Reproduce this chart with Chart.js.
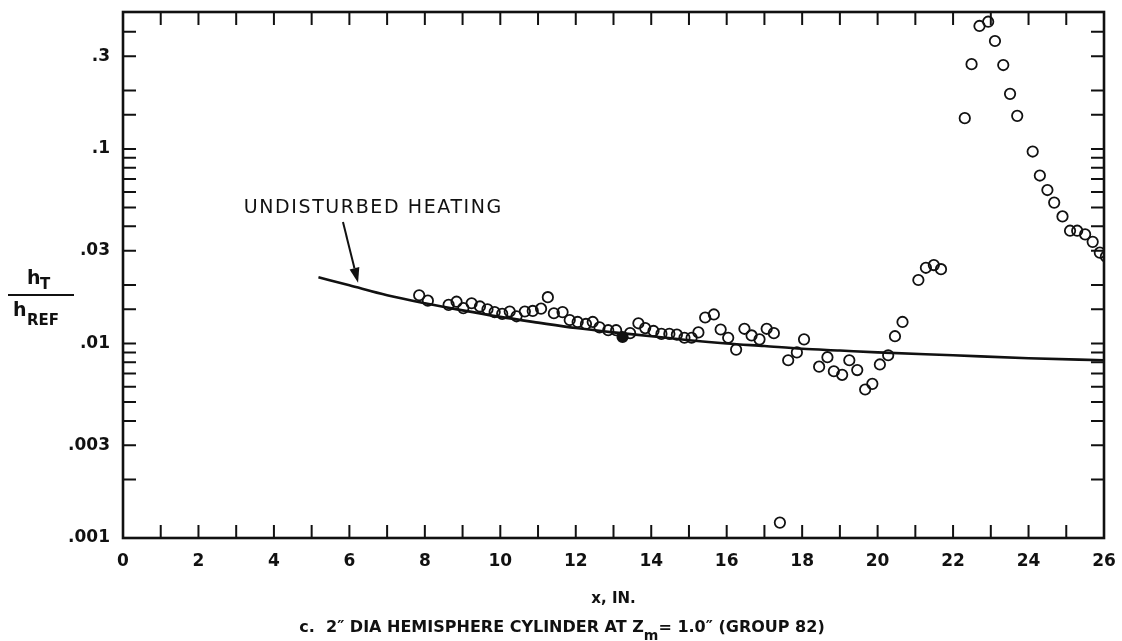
<!DOCTYPE html>
<html>
<head>
<meta charset="utf-8">
<script src="https://cdn.jsdelivr.net/npm/chart.js@4/dist/chart.umd.min.js"></script>
<style>
  html, body { margin: 0; padding: 0; background: #fff; }
</style>
</head>
<body>
<canvas id="chart" width="1122" height="641"></canvas>
<script>
// measured points (x in inches, h_T / h_REF)
const pointX = [7.85, 8.08, 8.63, 8.84, 9.02, 9.24, 9.46, 9.66, 9.85, 10.05, 10.25, 10.43, 10.65, 10.86, 11.08,
  11.26, 11.42, 11.65, 11.84, 12.05, 12.27, 12.45, 12.63, 12.86, 13.07, 13.24, 13.44, 13.66, 13.84, 14.06,
  14.27, 14.48, 14.68, 14.88, 15.07, 15.25, 15.43, 15.66, 15.84, 16.04, 16.25, 16.47, 16.66, 16.87, 17.06,
  17.25, 17.41, 17.63, 17.86, 18.05, 18.45, 18.67, 18.84, 19.06, 19.25, 19.46, 19.67, 19.86, 20.06, 20.28,
  20.46, 20.66, 21.08, 21.28, 21.49, 21.68, 22.31, 22.49, 22.70, 22.93, 23.11, 23.33, 23.51, 23.70, 24.11,
  24.30, 24.50, 24.68, 24.90, 25.10, 25.29, 25.50, 25.70, 25.89, 26.05];
const pointY = [0.0177, 0.0166, 0.0158, 0.0164, 0.0152, 0.0161, 0.0155, 0.0150, 0.0145, 0.0142, 0.0146, 0.0138, 0.0146, 0.0147, 0.0151,
  0.0173, 0.0143, 0.0145, 0.0132, 0.0129, 0.0126, 0.0129, 0.0121, 0.0117, 0.0117, 0.0108, 0.0113, 0.0127, 0.0120, 0.0116,
  0.0112, 0.0112, 0.0111, 0.0107, 0.0107, 0.0114, 0.0136, 0.0141, 0.0118, 0.0107, 0.0093, 0.0119, 0.0110, 0.0105, 0.0119,
  0.0113, 0.0012, 0.0082, 0.0090, 0.0105, 0.0076, 0.0085, 0.0072, 0.0069, 0.0082, 0.0073, 0.0058, 0.0062, 0.0078, 0.0087,
  0.0109, 0.0129, 0.0212, 0.0245, 0.0253, 0.0241, 0.144, 0.273, 0.429, 0.451, 0.359, 0.270, 0.192, 0.148, 0.097,
  0.073, 0.0615, 0.053, 0.045, 0.038, 0.038, 0.0364, 0.0333, 0.0293, 0.028];
const filledX = [13.24];

// undisturbed heating curve
const curveX = [5.18, 6, 7, 8, 9, 10, 11, 12, 13, 14, 15, 16, 17, 18, 19, 20, 22, 24, 26];
const curveY = [0.0219, 0.0199, 0.0177, 0.0161, 0.0148, 0.0137, 0.0128, 0.0120, 0.0114, 0.0109, 0.0104,
  0.0100, 0.0097, 0.0094, 0.0092, 0.0090, 0.0087, 0.0084, 0.0082];

const xTickLabels = [0, 2, 4, 6, 8, 10, 12, 14, 16, 18, 20, 22, 24, 26];
const yTickLabels = [0.001, 0.003, 0.01, 0.03, 0.1, 0.3];

const ink = '#111';
const tickLen = 13;
const fontFam = '"DejaVu Sans", "Liberation Sans", sans-serif';

// annotation anchor (data coords)
const note = { text: 'UNDISTURBED HEATING', x: 3.2, y: 0.0497 };
const arrow = { x0: 5.83, y0: 0.0421, x1: 6.23, y1: 0.0205 };

const isLabelled = (v, list) => list.some(t => Math.abs(v - t) / t < 1e-6 || v === t);
const noOverhang = s => { s.paddingTop = 0; s.paddingBottom = 0; s.paddingLeft = 0; s.paddingRight = 0; };

// frame, inward ticks, axis titles, caption, annotation
const decor = {
  id: 'decor',
  afterDatasetsDraw(chart) {
    const { ctx, chartArea: a, scales } = chart;
    const xs = scales.x, ys = scales.y;
    ctx.save();
    ctx.strokeStyle = ink;
    ctx.fillStyle = ink;
    ctx.lineWidth = 2;
    ctx.beginPath();
    xs.ticks.forEach(t => {
      const px = xs.getPixelForValue(t.value);
      if (px < a.left + 1 || px > a.right - 1) return;
      ctx.moveTo(px, a.bottom); ctx.lineTo(px, a.bottom - tickLen);
      ctx.moveTo(px, a.top); ctx.lineTo(px, a.top + tickLen);
    });
    ys.ticks.forEach(t => {
      const py = ys.getPixelForValue(t.value);
      if (py < a.top + 2 || py > a.bottom - 1) return;
      ctx.moveTo(a.left, py); ctx.lineTo(a.left + tickLen, py);
      ctx.moveTo(a.right, py); ctx.lineTo(a.right - tickLen, py);
    });
    ctx.stroke();
    ctx.lineWidth = 2.6;
    ctx.strokeRect(a.left, a.top, a.right - a.left, a.bottom - a.top);

    // y title as fraction h_T / h_REF
    ctx.textBaseline = 'alphabetic';
    ctx.textAlign = 'left';
    ctx.font = 'bold 19px ' + fontFam;
    ctx.fillText('h', 27, 284);
    ctx.font = 'bold 15px ' + fontFam;
    ctx.fillText('T', 40, 289);
    ctx.lineWidth = 2;
    ctx.beginPath();
    ctx.moveTo(8, 295); ctx.lineTo(74, 295);
    ctx.stroke();
    ctx.font = 'bold 19px ' + fontFam;
    ctx.fillText('h', 13, 316);
    ctx.font = 'bold 15px ' + fontFam;
    ctx.fillText('REF', 27, 325);

    // x title
    ctx.textAlign = 'center';
    ctx.font = 'bold 15px ' + fontFam;
    ctx.fillText('x, IN.', (a.left + a.right) / 2, 603);

    // caption with subscript m
    ctx.textAlign = 'left';
    const partA = 'c.  2\u2033 DIA HEMISPHERE CYLINDER AT Z';
    const partB = '= 1.0\u2033 (GROUP 82)';
    const big = 'bold 16px ' + fontFam, small = 'bold 14px ' + fontFam;
    ctx.font = big;
    const wA = ctx.measureText(partA).width, wB = ctx.measureText(partB).width;
    ctx.font = small;
    const wM = ctx.measureText('m').width;
    let cx = 562 - (wA + wM + wB) / 2;
    ctx.font = big; ctx.fillText(partA, cx, 632); cx += wA;
    ctx.font = small; ctx.fillText('m', cx, 640); cx += wM;
    ctx.font = big; ctx.fillText(partB, cx, 632);

    // annotation + arrow
    ctx.font = '19px ' + fontFam;
    ctx.letterSpacing = '1.6px';
    ctx.textBaseline = 'middle';
    ctx.fillText(note.text, xs.getPixelForValue(note.x), ys.getPixelForValue(note.y));
    ctx.letterSpacing = '0px';
    const x0 = xs.getPixelForValue(arrow.x0), y0 = ys.getPixelForValue(arrow.y0);
    const x1 = xs.getPixelForValue(arrow.x1), y1 = ys.getPixelForValue(arrow.y1);
    const ang = Math.atan2(y1 - y0, x1 - x0);
    const hl = 15, hw = 5;
    const bx = x1 - hl * Math.cos(ang), by = y1 - hl * Math.sin(ang);
    ctx.lineWidth = 2;
    ctx.beginPath();
    ctx.moveTo(x0, y0); ctx.lineTo(bx, by);
    ctx.stroke();
    ctx.beginPath();
    ctx.moveTo(x1, y1);
    ctx.lineTo(bx + hw * Math.sin(ang), by - hw * Math.cos(ang));
    ctx.lineTo(bx - hw * Math.sin(ang), by + hw * Math.cos(ang));
    ctx.closePath();
    ctx.fill();
    ctx.restore();
  }
};

const points = pointX.map((x, i) => ({ x, y: pointY[i] }));
const curve = curveX.map((x, i) => ({ x, y: curveY[i] }));

const chart = new Chart(document.getElementById('chart').getContext('2d'), {
  type: 'scatter',
  data: {
    datasets: [{
      label: 'data',
      data: points,
      pointStyle: 'circle',
      pointRadius: 5.2,
      borderWidth: 1.8,
      borderColor: ink,
      backgroundColor: c => (c.raw && filledX.includes(c.raw.x)) ? ink : 'rgba(0,0,0,0)'
    }, {
      label: 'UNDISTURBED HEATING',
      data: curve,
      showLine: true,
      pointRadius: 0,
      borderColor: ink,
      borderWidth: 2.6,
      cubicInterpolationMode: 'monotone',
      fill: false
    }]
  },
  options: {
    responsive: false,
    animation: false,
    devicePixelRatio: 1,
    layout: { padding: { left: 0, right: 18, top: 12, bottom: 0 } },
    plugins: { legend: { display: false }, tooltip: { enabled: false } },
    scales: {
      x: {
        type: 'linear', min: 0, max: 26,
        grid: { display: false, drawTicks: false },
        border: { display: false },
        ticks: {
          stepSize: 1, autoSkip: false, maxRotation: 0, padding: 13, color: ink,
          font: { family: fontFam, size: 17, weight: 'bold' },
          callback: v => xTickLabels.includes(v) ? String(v) : ''
        },
        afterFit: s => { s.height = 103; noOverhang(s); }
      },
      y: {
        type: 'logarithmic', min: 0.001, max: 0.506,
        grid: { display: false, drawTicks: false },
        border: { display: false },
        ticks: {
          autoSkip: false, padding: 13, color: ink,
          font: { family: fontFam, size: 17, weight: 'bold' },
          callback: v => isLabelled(v, yTickLabels) ? String(v).replace(/^0/, '') : ''
        },
        afterFit: s => { s.width = 123; noOverhang(s); }
      }
    }
  },
  plugins: [decor]
});
</script>
</body>
</html>
